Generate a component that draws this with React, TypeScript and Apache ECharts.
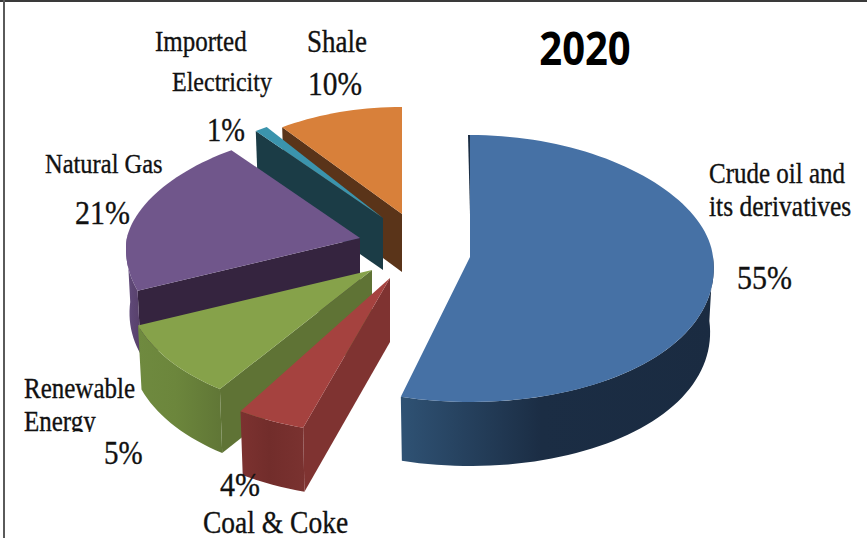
import React, { useEffect, useRef } from "react";
import * as echarts from "echarts";

const categories = ["Crude oil and its derivatives", "Coal & Coke", "Renewable Energy", "Natural Gas", "Imported Electricity", "Shale"];
// slice sizes as drawn in the picture (the printed labels differ for Renewable Energy)
const drawnShares = [54.8, 4.7, 10, 21, 1, 9.5];
const printedPercents = [55, 4, 5, 21, 1, 10];

const W = 867, H = 538;
const RX = 243, RY_BACK = 119, RY_FRONT = 145, PERSP = 0.08, BOTTOM_SHRINK = 0.985;

const sliceLayout = [
  { cx: 470, cy: 257, r: 1.0, rBack: 1.025, depth: 64, trim: 0 },
  { cx: 390, cy: 278, r: 1.085, rBack: 1.085, depth: 64, trim: 2.5 },
  { cx: 372, cy: 270, r: 1.01, rBack: 1.01, depth: 64, trim: 3.5 },
  { cx: 360, cy: 238, r: 0.96, rBack: 0.922, depth: 64, trim: 0 },
  { cx: 383, cy: 218, r: 0.92, rBack: 0.92, depth: 52, trim: 0 },
  { cx: 402, cy: 214, r: 0.9, rBack: 0.9, depth: 58, trim: -2 },
];
const sliceStyle = [
  { top: "#4671a5", wall: "#1b2e45", outer: ["#2f5274", "#1b2d44", "#1a2b41"] },
  { top: "#a5423f", wall: "#7f3331", outer: ["#7c3230", "#722d2b", "#7a3230"] },
  { top: "#86a24a", wall: "#5f7335", outer: ["#6f8a3f", "#6c863c", "#607636"] },
  { top: "#70568b", wall: "#35243f", outer: ["#65507f", "#5d4674", "#574069"] },
  { top: "#3b94ad", wall: "#1b3c46", outer: ["#1b3c46", "#1b3c46", "#1b3c46"] },
  { top: "#d8803a", wall: "#5a3419", outer: ["#5a3419", "#5a3419", "#5a3419"] },
];

const labelFont = (size: number) => `${size}px "Liberation Serif"`;
const textItems: { text: string; x: number; y: number; size: number }[] = [
  { text: "Crude oil and", x: 709, y: 173, size: 25 },
  { text: "its derivatives", x: 709, y: 206, size: 25.5 },
  { text: `${printedPercents[0]}%`, x: 737, y: 277, size: 30 },
  { text: `${printedPercents[1]}%`, x: 220, y: 484, size: 30 },
  { text: "Coal & Coke", x: 203, y: 522, size: 27.5 },
  { text: "Renewable", x: 24, y: 388, size: 25 },
  { text: "Energy", x: 24, y: 421, size: 25 },
  { text: `${printedPercents[2]}%`, x: 104, y: 453, size: 29 },
  { text: "Natural Gas", x: 45, y: 163, size: 24.5 },
  { text: `${printedPercents[3]}%`, x: 75, y: 212, size: 30 },
  { text: "Imported", x: 155, y: 41, size: 25 },
  { text: "Electricity", x: 172, y: 82, size: 24 },
  { text: `${printedPercents[4]}%`, x: 207, y: 130, size: 28.5 },
  { text: "Shale", x: 307, y: 41, size: 27 },
  { text: `${printedPercents[5]}%`, x: 308, y: 84, size: 29.5 },
];

const total = drawnShares.reduce((a, b) => a + b, 0);

function point(i: number, thetaDeg: number, bottom: boolean): number[] {
  const l = sliceLayout[i];
  const t = (thetaDeg * Math.PI) / 180;
  const s = Math.sin(t), c = Math.cos(t);
  const ry = c > 0 ? RY_BACK : RY_FRONT;
  const r = c > 0 ? l.r + (l.rBack - l.r) * c : l.r;
  let x = r * s * RX * (1 - PERSP * c);
  const y = -r * c * ry;
  if (bottom) x *= BOTTOM_SHRINK;
  return [l.cx + x, l.cy + y + (bottom ? l.depth : 0)];
}

function arcPoints(i: number, a: number, b: number, bottom: boolean): number[][] {
  const n = Math.max(2, Math.ceil((b - a) / 2));
  const pts: number[][] = [];
  for (let k = 0; k <= n; k++) pts.push(point(i, a + ((b - a) * k) / n, bottom));
  return pts;
}

const renderItem = (_: any, api: any) => {
  const i = api.value(1) as number;
  let before = 0;
  for (let k = 0; k < i; k++) before += drawnShares[k];
  const l = sliceLayout[i];
  const a0 = (before / total) * 360 + l.trim;
  const a1 = ((before + (api.value(0) as number)) / total) * 360;
  const st = sliceStyle[i];
  const children: any[] = [];

  // wall along the start edge
  const edgeOuterTop = point(i, a0, false);
  const edgeOuterBot = point(i, a0, true);
  children.push({
    type: "polygon",
    shape: { points: [[l.cx, l.cy], edgeOuterTop, edgeOuterBot, [l.cx, l.cy + l.depth]] },
    style: { fill: st.wall },
  });
  if (a0 === 0) {
    children.push({
      type: "polygon",
      shape: { points: [[edgeOuterTop[0] - 2, edgeOuterTop[1]], [edgeOuterTop[0] + 1, edgeOuterTop[1]], [l.cx + 4, l.cy - 3], [l.cx + 1, l.cy - 3]] },
      style: { fill: st.wall },
    });
  }
  // outer rim, front half only
  const ra = Math.max(a0, 90), rb = Math.min(a1, 270);
  if (rb > ra) {
    const t = arcPoints(i, ra, rb, false);
    const b = arcPoints(i, ra, rb, true).reverse();
    const xs = t.concat(b).map((p) => p[0]);
    const minX = Math.min(...xs), maxX = Math.max(...xs);
    children.push({
      type: "polygon",
      shape: { points: t.concat(b) },
      style: {
        fill: new echarts.graphic.LinearGradient(minX, 0, maxX, 0, [
          { offset: 0, color: st.outer[0] },
          { offset: 0.45, color: st.outer[1] },
          { offset: 1, color: st.outer[2] },
        ], true),
      },
    });
  }
  // top face
  children.push({
    type: "polygon",
    shape: { points: [[l.cx, l.cy], ...arcPoints(i, a0, a1, false)] },
    style: { fill: st.top },
  });
  return { type: "group", children };
};

export default function App() {
  const ref = useRef<HTMLDivElement>(null);
  useEffect(() => {
    const chart = echarts.init(ref.current!, undefined, { renderer: "svg" });
    chart.setOption({
      animation: false,
      backgroundColor: "#ffffff",
      graphic: [
        { type: "line", shape: { x1: 0, y1: 1, x2: W, y2: 1 }, style: { stroke: "#3a3a3a", lineWidth: 2 }, z: 1 },
        { type: "line", shape: { x1: 4, y1: 0, x2: 4, y2: H }, style: { stroke: "#5a5a5a", lineWidth: 2 }, z: 1 },
        {
          type: "text", x: 585, y: 47, scaleY: 1.15, z: 5,
          style: { text: "2020", font: 'bold 40px "Open Sans"', fill: "#000", textAlign: "center", textVerticalAlign: "middle" },
        },
        ...textItems.map((t) => ({
          type: "text", x: t.x, y: t.y, scaleY: 1.15, z: 5,
          style: { text: t.text, font: labelFont(t.size), fill: "#111", stroke: "#111", lineWidth: 0.3, textAlign: "left", textVerticalAlign: "middle" },
        })),
        { type: "rect", shape: { x: 20, y: 432, width: 80, height: 9 }, style: { fill: "#fff" }, z: 6 },
      ],
      series: [
        {
          type: "custom",
          coordinateSystem: "none",
          name: "2020",
          renderItem,
          data: drawnShares.map((v, i) => ({ name: categories[i], value: [v, i] })).reverse(),
          silent: true,
          z: 2,
        },
      ],
    });
    return () => chart.dispose();
  }, []);
  return <div ref={ref} style={{ position: "absolute", left: 0, top: 0, width: W, height: H }} />;
}
